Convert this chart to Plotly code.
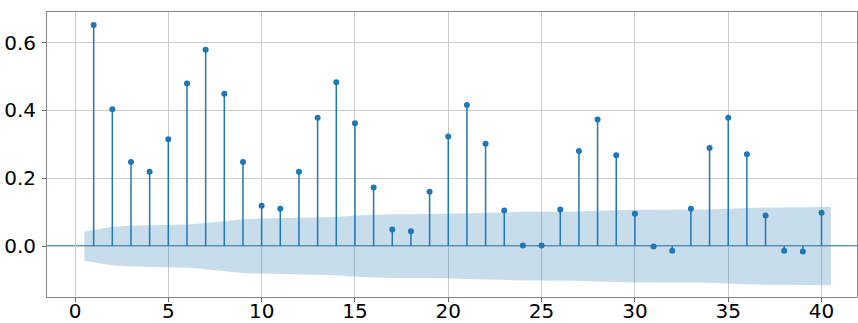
import plotly.graph_objects as go

lags = list(range(1, 41))
acf_values = [0.652, 0.403, 0.248, 0.219, 0.315, 0.479, 0.579, 0.449, 0.248, 0.119,
              0.110, 0.219, 0.378, 0.483, 0.362, 0.173, 0.049, 0.044, 0.160, 0.323,
              0.416, 0.302, 0.105, 0.002, 0.002, 0.108, 0.280, 0.373, 0.268, 0.095,
              -0.001, -0.014, 0.110, 0.289, 0.378, 0.271, 0.090, -0.014, -0.016, 0.098]
conf_band = [0.043, 0.057, 0.060, 0.061, 0.062, 0.064, 0.068, 0.074, 0.079, 0.081,
             0.082, 0.082, 0.083, 0.086, 0.090, 0.093, 0.094, 0.094, 0.094, 0.095,
             0.097, 0.099, 0.101, 0.101, 0.101, 0.101, 0.102, 0.104, 0.106, 0.107,
             0.107, 0.107, 0.107, 0.108, 0.110, 0.113, 0.114, 0.114, 0.114, 0.115]
x_ticks = [0, 5, 10, 15, 20, 25, 30, 35, 40]
y_ticks = [0.0, 0.2, 0.4, 0.6]

C0 = "#1f77b4"

band_x = [lags[0] - 0.5] + lags[1:-1] + [lags[-1] + 0.5]

fig = go.Figure()
fig.add_trace(go.Scatter(x=band_x, y=[-c for c in conf_band], mode="lines",
                         line=dict(width=0, color=C0), hoverinfo="skip", showlegend=False))
fig.add_trace(go.Scatter(x=band_x, y=conf_band, mode="lines", fill="tonexty",
                         fillcolor="rgba(31,119,180,0.25)",
                         line=dict(width=0, color=C0), hoverinfo="skip", showlegend=False))

sx, sy = [], []
for k, v in zip(lags, acf_values):
    sx += [k, k, None]
    sy += [0, v, None]
fig.add_trace(go.Scatter(x=sx, y=sy, mode="lines", line=dict(color=C0, width=1.5),
                         showlegend=False, hoverinfo="skip"))
fig.add_trace(go.Scatter(x=lags, y=acf_values, mode="markers",
                         marker=dict(color=C0, size=6), showlegend=False))

fig.add_shape(type="line", xref="paper", x0=0, x1=1, yref="y", y0=0, y1=0,
              line=dict(color=C0, width=1.5), layer="below")

fig.update_layout(
    width=858, height=323,
    margin=dict(l=47, r=1, t=12, b=26, autoexpand=False),
    plot_bgcolor="white", paper_bgcolor="white",
    font=dict(family="DejaVu Sans", size=20, color="black"),
    showlegend=False,
)
fig.update_xaxes(range=[-1.5, 41.9], tickvals=x_ticks, showgrid=True, gridcolor="#cccccc",
                 gridwidth=1, zeroline=False, showline=True, linecolor="#888888", linewidth=1,
                 mirror=True, ticks="outside", ticklen=4, tickcolor="#666666", automargin=False,
                 ticklabelstandoff=-8)
fig.update_yaxes(range=[-0.15, 0.69], tickvals=y_ticks, ticktext=["0.0", "0.2", "0.4", "0.6"],
                 showgrid=True, gridcolor="#cccccc", gridwidth=1, zeroline=False,
                 showline=True, linecolor="#888888", linewidth=1, mirror=True,
                 ticks="outside", ticklen=4, tickcolor="#666666", automargin=False,
                 ticklabelstandoff=2)

fig.write_html("out.html", config={"displayModeBar": False},
               post_script="document.body.style.margin='0';document.body.style.overflow='hidden';")
